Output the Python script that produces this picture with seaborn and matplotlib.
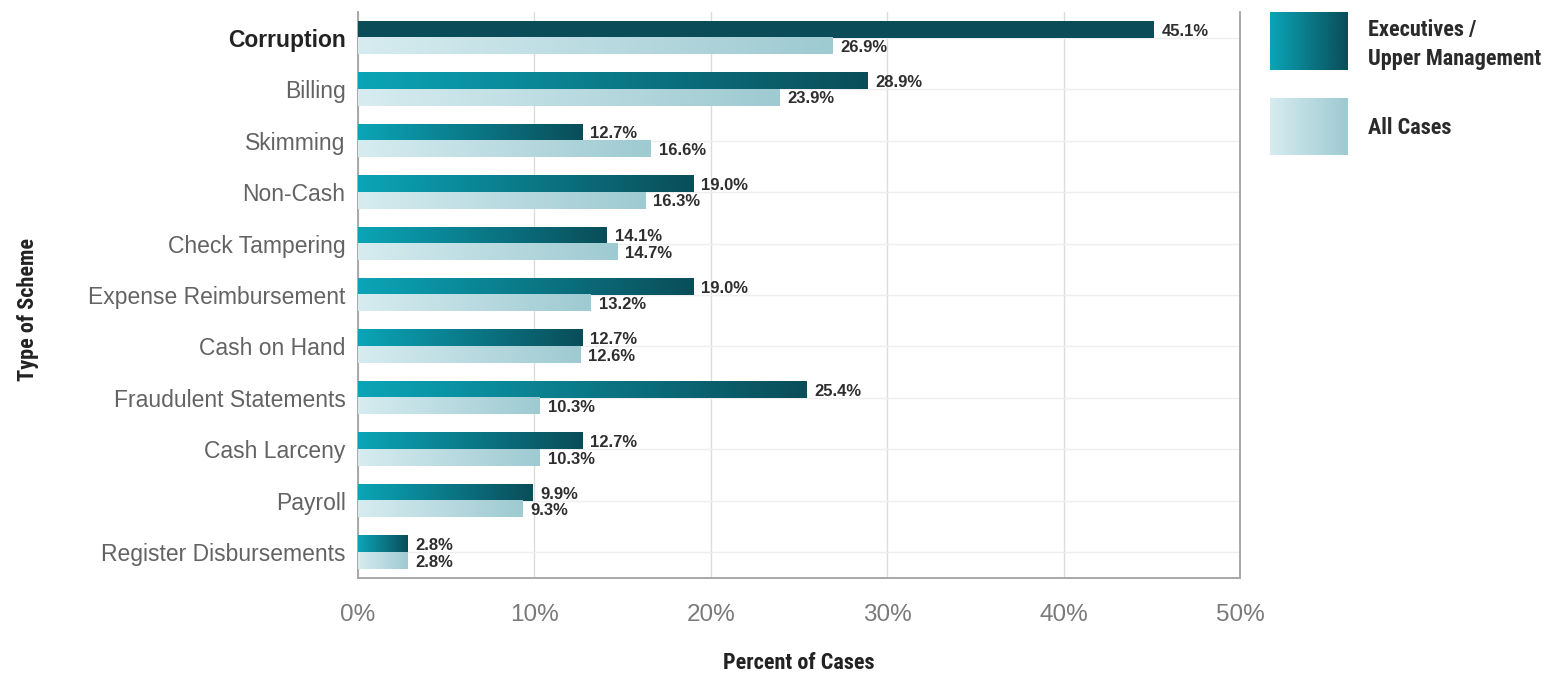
import numpy as np
import pandas as pd
import matplotlib
matplotlib.use("Agg")
import matplotlib.pyplot as plt
from matplotlib.colors import LinearSegmentedColormap
import seaborn as sns

# Scheme types and the share of cases (%) for each perpetrator group
schemes = ["Corruption", "Billing", "Skimming", "Non-Cash", "Check Tampering",
           "Expense Reimbursement", "Cash on Hand", "Fraudulent Statements",
           "Cash Larceny", "Payroll", "Register Disbursements"]
executives = [45.1, 28.9, 12.7, 19.0, 14.1, 19.0, 12.7, 25.4, 12.7, 9.9, 2.8]
all_cases = [26.9, 23.9, 16.6, 16.3, 14.7, 13.2, 12.6, 10.3, 10.3, 9.3, 2.8]
groups = ["Executives /\nUpper Management", "All Cases"]
x_ticks = [0, 10, 20, 30, 40, 50]
x_tick_labels = ["0%", "10%", "20%", "30%", "40%", "50%"]

df = pd.DataFrame({
    "scheme": schemes * 2,
    "value": executives + all_cases,
    "group": [groups[0]] * len(schemes) + [groups[1]] * len(schemes),
})

sns.set_theme(style="white")
plt.rcParams["font.family"] = ["Liberation Sans", "DejaVu Sans"]

dark_cmap = LinearSegmentedColormap.from_list("dark", ["#0aa5b7", "#0a4d59"])
light_cmap = LinearSegmentedColormap.from_list("light", ["#d6ecf0", "#9ecad1"])
solid_dark = "#0a4d59"
title_font = ["Liberation Sans Narrow", "Roboto Condensed", "Roboto", "DejaVu Sans"]
value_font = ["Liberation Sans", "DejaVu Sans"]

W, H = 1564, 679
fig = plt.figure(figsize=(W / 100, H / 100), dpi=100)
ax = fig.add_axes([358 / W, 1 - 578 / H, (1240 - 358) / W, (578 - 12) / H])

sns.barplot(data=df, x="value", y="scheme", hue="group", orient="h",
            hue_order=groups, order=schemes, width=0.64, gap=0,
            palette=["#0a7d8c", "#b8dce2"], legend=False, ax=ax, zorder=3)

grad = np.linspace(0, 1, 256).reshape(1, -1)
for gi, cont in enumerate(ax.containers):
    cmap = dark_cmap if gi == 0 else light_cmap
    for ci, bar in enumerate(cont.patches):
        x0, y0 = bar.get_x(), bar.get_y()
        w, h = bar.get_width(), bar.get_height()
        if gi == 0 and schemes[ci] == "Corruption":
            bar.set_facecolor(solid_dark)
        else:
            ax.imshow(grad, cmap=cmap, aspect="auto", interpolation="bilinear",
                      extent=[x0, x0 + w, y0 + h, y0], zorder=3)
            bar.set_facecolor("none")
        bar.set_edgecolor("none")
        ax.text(x0 + w + 0.45, y0 + h / 2 + 0.03, f"{w:.1f}%", va="center", ha="left",
                fontsize=12, fontweight="bold", color="#2e2e2e",
                family=value_font, zorder=4)

ax.set_xlim(0, 50)
ax.set_ylim(len(schemes) - 0.5, -0.5)
ax.set_xticks(x_ticks)
ax.set_xticklabels(x_tick_labels, fontsize=17.5, color="#7a7a7a")
ax.tick_params(axis="x", length=0, pad=19)
ax.tick_params(axis="y", length=0, pad=9)
for lbl in ax.get_yticklabels():
    lbl.set_fontsize(16.5)
    if lbl.get_text() == "Corruption":
        lbl.set_fontweight("bold")
        lbl.set_color("#222222")
    else:
        lbl.set_color("#636363")

ax.grid(True, axis="x", color="#dcdcdc", linewidth=1, zorder=0)
ax.grid(True, axis="y", color="#efefef", linewidth=1, zorder=0)
ax.set_axisbelow(True)
for side in ["left", "bottom", "right"]:
    ax.spines[side].set_visible(True)
    ax.spines[side].set_color("#a8a8a8")
    ax.spines[side].set_linewidth(1.4)
ax.spines["top"].set_visible(False)

ax.set_xlabel("")
ax.set_ylabel("")
fig.text(799 / W, 1 - 663 / H, "Percent of Cases", va="center", ha="center",
         fontsize=16, fontweight="bold", color="#222222", family=title_font)
fig.text(28 / W, 1 - 310 / H, "Type of Scheme", rotation=90, va="center", ha="center",
         fontsize=16, fontweight="bold", color="#222222", family=title_font)

# Legend swatches with the same gradients as the bars
legend_items = [((12, 70), dark_cmap, groups[0].split("\n"), [30, 59]),
                ((98, 155), light_cmap, groups[1].split("\n"), [128])]
for (top, bottom), cmap, lines, ys in legend_items:
    sw = fig.add_axes([1270 / W, 1 - bottom / H, 78 / W, (bottom - top) / H])
    sw.imshow(grad, cmap=cmap, aspect="auto", interpolation="bilinear")
    sw.set_axis_off()
    for line, ty in zip(lines, ys):
        fig.text(1368 / W, 1 - ty / H, line, va="center", ha="left", fontsize=16,
                 fontweight="bold", color="#2a2a2a", family=title_font)

fig.savefig("out.png", dpi=100, facecolor="white")
